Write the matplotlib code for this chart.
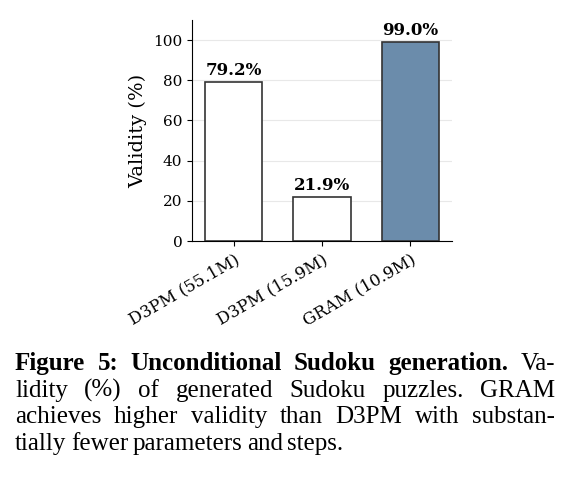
import matplotlib
matplotlib.use("Agg")
import matplotlib.pyplot as plt

# data
modelos = ['D3PM (55.1M)', 'D3PM (15.9M)', 'GRAM (10.9M)']
validez = [79.2, 21.9, 99.0]
colores = ['white', 'white', '#6b8cab']

caption = [
    [('Figure 5: Unconditional Sudoku generation.', True), ('Va-', False)],
    [('lidity (%) of generated Sudoku puzzles.', False), (' GRAM', False)],
    [('achieves higher validity than D3PM with substan-', False)],
    [('tially fewer parameters and steps.', False)],
]

plt.rcParams['font.family'] = 'DejaVu Serif'

fig = plt.figure(figsize=(5.7, 4.86), dpi=100)
ax = fig.add_axes([0.337, 0.504, 0.456, 0.455])

x = range(len(modelos))
ax.bar(x, validez, width=0.65, color=colores, edgecolor='#333333', linewidth=1.2, zorder=3)
for i, v in zip(x, validez):
    ax.text(i, v + 1.5, f'{v:.1f}%', ha='center', va='bottom', fontsize=12, fontweight='bold')

ax.set_xlim(-0.47, 2.47)
ax.set_ylim(0, 110)
ax.set_yticks([0, 20, 40, 60, 80, 100])
ax.set_xticks(list(x))
ax.set_xticklabels(modelos, rotation=30, ha='right', rotation_mode='anchor', fontsize=12)
ax.tick_params(axis='y', labelsize=11)
ax.set_ylabel('Validity (%)', fontsize=14, labelpad=4)
ax.yaxis.grid(True, color='#e8e8e8', linewidth=0.8, zorder=0)
ax.spines['top'].set_visible(False)
ax.spines['right'].set_visible(False)

# caption, justified by hand
fig.canvas.draw()
r = fig.canvas.get_renderer()
izq, der = 15, 555
base = [370, 397, 423, 450]
H = 486
for n, (linea, y) in enumerate(zip(caption, base)):
    palabras = []
    for texto, negrita in linea:
        for w in texto.split():
            palabras.append((w, negrita))
    objs = []
    for w, negrita in palabras:
        t = fig.text(0, 1 - y / H, w, fontsize=18, family='Liberation Serif',
                     fontweight='bold' if negrita else 'normal', va='baseline')
        objs.append(t)
    anchos = [t.get_window_extent(r).width for t in objs]
    if n < len(caption) - 1:
        hueco = (der - izq - sum(anchos)) / (len(objs) - 1)
    else:
        hueco = 4.5
    pos = izq
    for t, a in zip(objs, anchos):
        t.set_x(pos / 570)
        pos += a + hueco

fig.savefig('out.png', dpi=100)
